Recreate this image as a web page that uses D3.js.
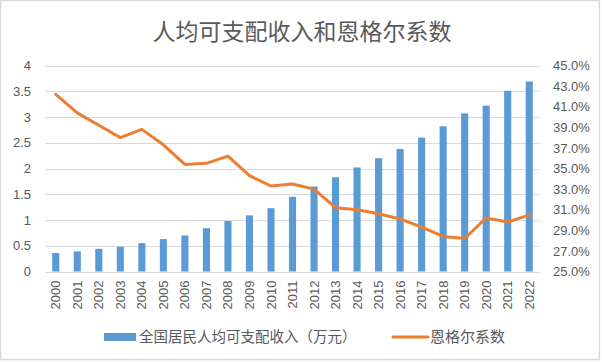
<!DOCTYPE html>
<html><head><meta charset="utf-8">
<script src="https://cdn.jsdelivr.net/npm/d3@7"></script>
<style>html,body{margin:0;padding:0;background:#fff;}svg{display:block;}</style>
</head><body>
<svg id="c" width="602" height="362"></svg>
<script>
const years = ["2000","2001","2002","2003","2004","2005","2006","2007","2008","2009","2010","2011","2012","2013","2014","2015","2016","2017","2018","2019","2020","2021","2022"];
const income = [0.36,0.39,0.44,0.48,0.55,0.63,0.70,0.84,0.98,1.09,1.23,1.45,1.65,1.83,2.02,2.20,2.38,2.60,2.82,3.07,3.22,3.51,3.69];
const engel = [42.2,40.4,39.2,38.0,38.8,37.3,35.4,35.5,36.2,34.3,33.3,33.5,33.0,31.2,31.0,30.6,30.1,29.3,28.4,28.2,30.2,29.8,30.5];
const leftTicks = [0,0.5,1,1.5,2,2.5,3,3.5,4];
const rightTicks = [25,27,29,31,33,35,37,39,41,43,45];
const title = "人均可支配收入和恩格尔系数";
const seriesNames = ["全国居民人均可支配收入（万元）","恩格尔系数"];

const svg = d3.select("#c");
const font = "'Liberation Sans', Arial, sans-serif";
const cjk = "'Noto Sans CJK SC', sans-serif";
const gray = "#595959";

svg.append("rect").attr("x",0.5).attr("y",0.5).attr("width",599).attr("height",359)
  .attr("fill","#fff").attr("stroke","#d9d9d9").attr("stroke-width",1.5);

const L = 45, R = 540, T = 65.5, B = 271.5;
const x = d3.scaleBand().domain(years).range([L,R]).paddingInner(0.67).paddingOuter(0.335);
const yL = d3.scaleLinear().domain([0,4]).range([B,T]);
const yR = d3.scaleLinear().domain([25,45]).range([B,T]);

// gridlines
svg.append("g").selectAll("line").data(leftTicks).join("line")
  .attr("x1",L).attr("x2",R).attr("y1",d=>Math.round(yL(d))+0.5).attr("y2",d=>Math.round(yL(d))+0.5)
  .attr("stroke","#d9d9d9").attr("stroke-width",1);

// left axis
const gl = svg.append("g").attr("transform",`translate(${L-8},0)`)
  .call(d3.axisLeft(yL).tickValues(leftTicks).tickSize(0).tickPadding(6).tickFormat(d3.format("")));
gl.select(".domain").remove();
gl.selectAll("text").attr("font-family",font).attr("font-size",13).attr("fill",gray);

// right axis
const gr = svg.append("g").attr("transform",`translate(${R+8},0)`)
  .call(d3.axisRight(yR).tickValues(rightTicks).tickSize(0).tickPadding(5).tickFormat(d=>d.toFixed(1)+"%"));
gr.select(".domain").remove();
gr.selectAll("text").attr("font-family",font).attr("font-size",13).attr("fill",gray);

// bars
svg.append("g").selectAll("rect").data(years).join("rect")
  .attr("x",d=>x(d)).attr("width",x.bandwidth())
  .attr("y",(d,i)=>yL(income[i])).attr("height",(d,i)=>B-yL(income[i]))
  .attr("fill","#5b9bd5");

// line
const line = d3.line().x((d,i)=>x(years[i])+x.bandwidth()/2).y(d=>yR(d));
svg.append("path").datum(engel).attr("d",line).attr("fill","none")
  .attr("stroke","#ed7d31").attr("stroke-width",3).attr("stroke-linejoin","round").attr("stroke-linecap","round");

// x axis labels
const gx = svg.append("g").attr("transform",`translate(0,${B})`)
  .call(d3.axisBottom(x).tickSize(0).tickPadding(0));
gx.select(".domain").remove();
gx.selectAll("text").attr("font-family",font).attr("font-size",13).attr("fill",gray)
  .attr("transform","rotate(-90)").attr("text-anchor","end").attr("x",-9).attr("y",0).attr("dy","0.35em");

// title
svg.append("text").attr("x",302).attr("y",40).attr("text-anchor","middle")
  .attr("font-family",cjk).attr("font-size",23).attr("fill",gray).text(title);

// legend
const lg = svg.append("g");
lg.append("rect").attr("x",104).attr("y",333).attr("width",32).attr("height",8).attr("fill","#5b9bd5");
lg.append("text").attr("x",139).attr("y",337).attr("dy","0.35em").attr("font-family",cjk)
  .attr("font-size",14.5).attr("fill",gray).text(seriesNames[0]);
lg.append("line").attr("x1",393).attr("x2",428).attr("y1",337).attr("y2",337)
  .attr("stroke","#ed7d31").attr("stroke-width",3).attr("stroke-linecap","round");
lg.append("text").attr("x",430).attr("y",337).attr("dy","0.35em").attr("font-family",cjk)
  .attr("font-size",15).attr("fill",gray).text(seriesNames[1]);
</script>
</body></html>
